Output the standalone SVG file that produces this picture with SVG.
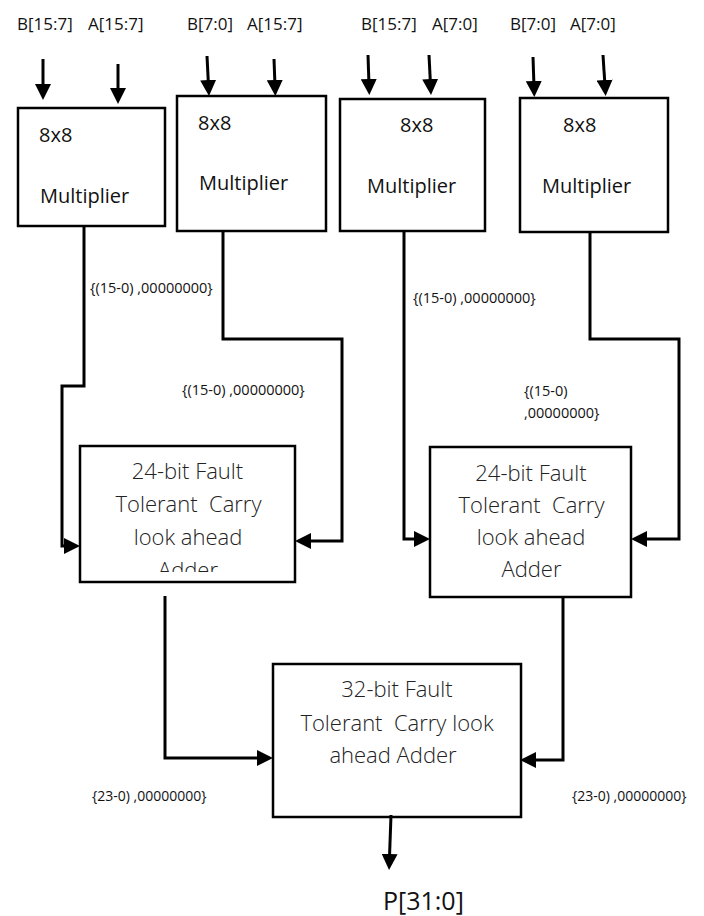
<svg xmlns="http://www.w3.org/2000/svg" width="704" height="916" viewBox="0 0 704 916">
<style>
.box{fill:#fff;stroke:#000;stroke-width:2.5}
.w{fill:none;stroke:#000;stroke-width:3;marker-end:url(#ah)}
.t{font-family:"Open Sans","Liberation Sans",sans-serif;fill:#111}
.top{font-size:17px}
.mul{font-size:20px}
.add{font-size:22px;font-weight:300;text-anchor:middle;fill:#222}
.lab{font-size:14.5px}
.lab2{font-size:14px}
</style>
<defs>
<marker id="ah" viewBox="0 0 16 16" refX="6" refY="8" markerWidth="16" markerHeight="16" markerUnits="userSpaceOnUse" orient="auto">
<path d="M0,0 L16,8 L0,16 Z" fill="#000"/>
</marker>
<clipPath id="clipA1"><rect x="80" y="446" width="215" height="126"/></clipPath>
</defs>

<g id="inputs">
<text class="t top" y="30"><tspan x="17">B[15:7]</tspan><tspan x="88">A[15:7]</tspan></text>
<text class="t top" y="30"><tspan x="187">B[7:0]</tspan><tspan x="247">A[15:7]</tspan></text>
<text class="t top" y="30"><tspan x="361">B[15:7]</tspan><tspan x="432">A[7:0]</tspan></text>
<text class="t top" y="30"><tspan x="510">B[7:0]</tspan><tspan x="570">A[7:0]</tspan></text>
</g>

<g id="mult1">
<rect class="box" x="18" y="108" width="147" height="118"/>
<text class="t mul" x="39" y="142">8x8</text>
<text class="t mul" x="40" y="203">Multiplier</text>
</g>
<g id="mult2">
<rect class="box" x="177" y="96" width="149" height="135"/>
<text class="t mul" x="198" y="130">8x8</text>
<text class="t mul" x="199" y="190">Multiplier</text>
</g>
<g id="mult3">
<rect class="box" x="340" y="99" width="145" height="132"/>
<text class="t mul" x="400" y="132">8x8</text>
<text class="t mul" x="367" y="193">Multiplier</text>
</g>
<g id="mult4">
<rect class="box" x="520" y="98" width="148" height="134"/>
<text class="t mul" x="563" y="132">8x8</text>
<text class="t mul" x="542" y="193">Multiplier</text>
</g>

<g id="adder24a">
<rect class="box" x="80" y="446" width="215" height="136"/>
<g clip-path="url(#clipA1)">
<text class="t add" x="187.5" y="479">24-bit Fault</text>
<text class="t add" x="188.5" y="512" xml:space="preserve">Tolerant  Carry</text>
<text class="t add" x="188" y="545">look ahead</text>
<text class="t add" x="188" y="578">Adder</text>
</g>
</g>
<g id="adder24b">
<rect class="box" x="430" y="447" width="201" height="150"/>
<text class="t add" x="531" y="481">24-bit Fault</text>
<text class="t add" x="531.5" y="513" xml:space="preserve">Tolerant  Carry</text>
<text class="t add" x="531" y="545">look ahead</text>
<text class="t add" x="531.5" y="577">Adder</text>
</g>
<g id="adder32">
<rect class="box" x="273" y="664" width="248" height="153"/>
<text class="t add" x="397" y="697">32-bit Fault</text>
<text class="t add" x="397" y="731" xml:space="preserve">Tolerant  Carry look</text>
<text class="t add" x="393" y="763">ahead Adder</text>
</g>

<g id="connectors">
<line class="w" x1="43" y1="59" x2="43" y2="90"/>
<line class="w" x1="118" y1="64" x2="118" y2="94"/>
<line class="w" x1="207" y1="56" x2="208.5" y2="86"/>
<line class="w" x1="274" y1="59" x2="275" y2="86"/>
<line class="w" x1="368" y1="55" x2="369" y2="85"/>
<line class="w" x1="429" y1="55" x2="430.5" y2="85"/>
<line class="w" x1="533" y1="57" x2="534" y2="87"/>
<line class="w" x1="603" y1="55" x2="605" y2="86"/>
<path class="w" d="M84,226 V386 H62 V546 H70"/>
<path class="w" d="M223,231 V339 H342 V541 H305"/>
<path class="w" d="M404,231 V539 H420"/>
<path class="w" d="M590,232 V339 H679 V539 H641"/>
<path class="w" d="M165,596 V758 H263"/>
<path class="w" d="M563,597 V760 H530"/>
<line class="w" x1="391" y1="815" x2="389.4" y2="860"/>
</g>

<g id="labels">
<text class="t lab" x="90" y="293">{(15-0) ,00000000}</text>
<text class="t lab" x="182" y="395">{(15-0) ,00000000}</text>
<text class="t lab" x="413" y="303">{(15-0) ,00000000}</text>
<text class="t lab" x="524" y="396">{(15-0)</text>
<text class="t lab" x="524" y="418">,00000000}</text>
<text class="t lab2" x="92" y="801">{23-0) ,00000000}</text>
<text class="t lab2" x="572" y="801">{23-0) ,00000000}</text>
<text class="t" x="383" y="910" font-size="25">P[31:0]</text>
</g>
</svg>
